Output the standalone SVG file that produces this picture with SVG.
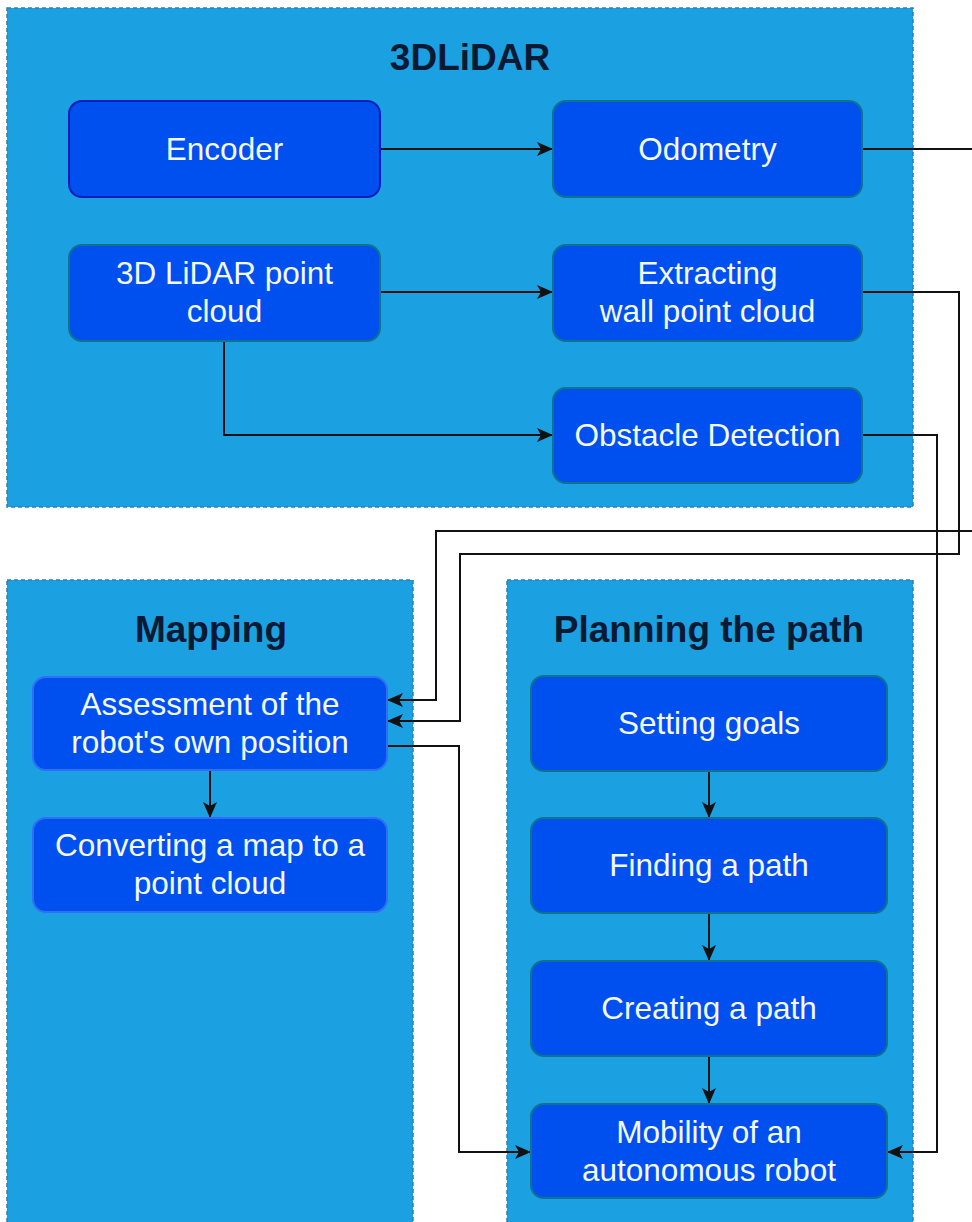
<svg xmlns="http://www.w3.org/2000/svg" width="972" height="1222" viewBox="0 0 972 1222">
<defs>
<style>
.cont{fill:#1ba1e2;stroke:#2c7fb5;stroke-width:1.5;stroke-dasharray:4 3;}
.node{fill:#0050ef;stroke:#10738e;stroke-width:2;}
.enc{stroke:#001dbc;}
.map{stroke:#2f6ef5;}
.t{font-family:"Liberation Sans",Arial,sans-serif;font-size:31.5px;fill:#f4f8ff;text-anchor:middle;}
.h{font-family:"Liberation Sans",Arial,sans-serif;font-size:37px;font-weight:bold;fill:#0a1a33;text-anchor:middle;}
.c{fill:none;stroke:#111;stroke-width:2;}
</style>
<marker id="ah" viewBox="0 0 16 14" refX="15" refY="7" markerWidth="16" markerHeight="14" markerUnits="userSpaceOnUse" orient="auto">
<path d="M0,0 L16,7 L0,14 L4,7 Z" fill="#111"/>
</marker>
</defs>
<rect width="972" height="1222" fill="#ffffff"/>

<g id="container-3dlidar">
<rect class="cont" x="7" y="8" width="906" height="499"/>
<text class="h" x="470" y="70">3DLiDAR</text>
</g>
<g id="container-mapping">
<rect class="cont" x="7" y="580" width="406" height="650"/>
<text class="h" x="211" y="642">Mapping</text>
</g>
<g id="container-planning">
<rect class="cont" x="507" y="580" width="406" height="650"/>
<text class="h" x="709" y="642">Planning the path</text>
</g>

<g id="connectors">
<path class="c" d="M380,149 H552" marker-end="url(#ah)"/>
<path class="c" d="M862,149 H990 V531 H436 V700 H388" marker-end="url(#ah)"/>
<path class="c" d="M380,292 H552" marker-end="url(#ah)"/>
<path class="c" d="M862,292 H959 V554 H460 V721 H388" marker-end="url(#ah)"/>
<path class="c" d="M224,341 V435 H552" marker-end="url(#ah)"/>
<path class="c" d="M862,435 H937 V1152 H888" marker-end="url(#ah)"/>
<path class="c" d="M387,746 H459 V1152 H530" marker-end="url(#ah)"/>
<path class="c" d="M210,770 V817" marker-end="url(#ah)"/>
<path class="c" d="M709,771 V817" marker-end="url(#ah)"/>
<path class="c" d="M709,913 V960" marker-end="url(#ah)"/>
<path class="c" d="M709,1056 V1103" marker-end="url(#ah)"/>
</g>

<g id="node-encoder">
<rect class="node enc" x="69" y="101" width="311" height="96" rx="13"/>
<text class="t" x="224.5" y="160">Encoder</text>
</g>
<g id="node-odometry">
<rect class="node" x="553" y="101" width="309" height="96" rx="13"/>
<text class="t" x="707.5" y="160">Odometry</text>
</g>
<g id="node-pointcloud">
<rect class="node" x="69" y="245" width="311" height="96" rx="13"/>
<text class="t" x="224.5" y="284">3D LiDAR point</text>
<text class="t" x="224.5" y="322">cloud</text>
</g>
<g id="node-wall">
<rect class="node" x="553" y="245" width="309" height="96" rx="13"/>
<text class="t" x="707.5" y="284">Extracting</text>
<text class="t" x="707.5" y="322">wall point cloud</text>
</g>
<g id="node-obstacle">
<rect class="node" x="553" y="388" width="309" height="95" rx="13"/>
<text class="t" x="707.5" y="446">Obstacle Detection</text>
</g>
<g id="node-assessment">
<rect class="node map" x="33" y="677" width="354" height="93" rx="13"/>
<text class="t" x="210" y="715">Assessment of the</text>
<text class="t" x="210" y="753">robot's own position</text>
</g>
<g id="node-converting">
<rect class="node map" x="33" y="818" width="354" height="94" rx="13"/>
<text class="t" x="210" y="856">Converting a map to a</text>
<text class="t" x="210" y="894">point cloud</text>
</g>
<g id="node-goals">
<rect class="node" x="531" y="676" width="356" height="95" rx="13"/>
<text class="t" x="709" y="734">Setting goals</text>
</g>
<g id="node-finding">
<rect class="node" x="531" y="818" width="356" height="95" rx="13"/>
<text class="t" x="709" y="876">Finding a path</text>
</g>
<g id="node-creating">
<rect class="node" x="531" y="961" width="356" height="95" rx="13"/>
<text class="t" x="709" y="1019">Creating a path</text>
</g>
<g id="node-mobility">
<rect class="node" x="531" y="1104" width="356" height="94" rx="13"/>
<text class="t" x="709" y="1143">Mobility of an</text>
<text class="t" x="709" y="1181">autonomous robot</text>
</g>
</svg>
